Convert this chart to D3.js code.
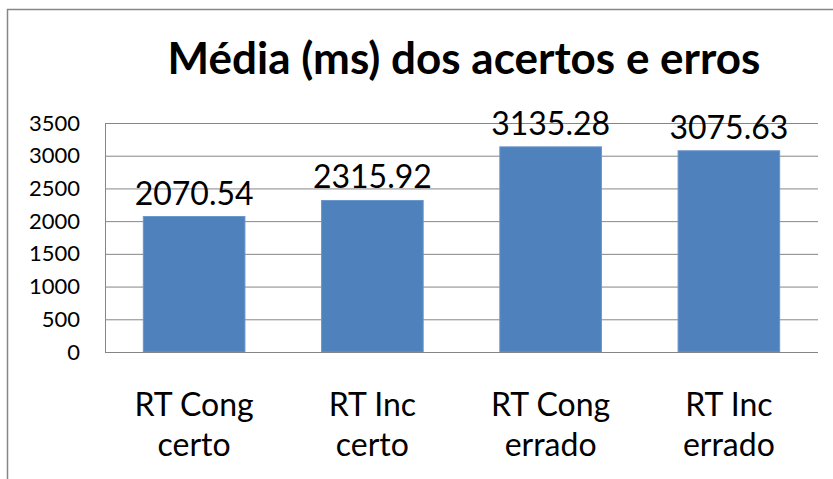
<!DOCTYPE html>
<html><head><meta charset="utf-8">
<script src="https://cdn.jsdelivr.net/npm/d3@7"></script>
<style>body{margin:0;background:#fff}svg{display:block}</style>
</head><body>
<script>
const title = "Média (ms) dos acertos e erros";
const categories = [["RT Cong","certo"],["RT Inc","certo"],["RT Cong","errado"],["RT Inc","errado"]];
const values = [2070.54, 2315.92, 3135.28, 3075.63];
const valueLabels = ["2070.54","2315.92","3135.28","3075.63"];
const yTicks = [0,500,1000,1500,2000,2500,3000,3500];

(function(){
const W=833,H=479;
const svg=d3.select("body").append("svg").attr("width",W).attr("height",H);
const font="Lato, 'Open Sans', sans-serif";
svg.append("rect").attr("x",7.5).attr("y",9.5).attr("width",W).attr("height",H).attr("fill","#fff").attr("stroke","#868686").attr("stroke-width",1.5);

const pl=105,pr=818,pt=123,pb=352;
const x=d3.scaleBand().domain(d3.range(categories.length)).range([pl,pr]).paddingInner(0.43).paddingOuter(0.215);
const y=d3.scaleLinear().domain([0,3500]).range([pb,pt]);

const yAxis=d3.axisLeft(y).tickValues(yTicks).tickSize(-(pr-pl)).tickPadding(25).tickFormat(d3.format("d"));
const g=svg.append("g").attr("transform",`translate(${pl},0)`).call(yAxis);
g.select(".domain").attr("stroke","#868686");
g.selectAll(".tick line").attr("stroke","#868686").attr("stroke-width",1);
g.selectAll(".tick text").attr("font-family",font).attr("font-size",22).attr("fill","#000");

svg.append("g").selectAll("rect").data(values).join("rect")
 .attr("x",(d,i)=>x(i)).attr("width",x.bandwidth())
 .attr("y",d=>y(d)).attr("height",d=>pb-y(d))
 .attr("fill","#4F81BD").attr("stroke","#6a96cc").attr("stroke-width",1);

svg.append("line").attr("x1",pl).attr("x2",pr).attr("y1",pb+0.5).attr("y2",pb+0.5).attr("stroke","#868686");

svg.append("g").selectAll("text").data(values).join("text")
 .attr("x",(d,i)=>x(i)+x.bandwidth()/2).attr("y",d=>y(d)-12)
 .attr("text-anchor","middle").attr("font-family",font).attr("font-size",32).attr("fill","#000")
 .text((d,i)=>valueLabels[i]);

const cl=svg.append("g").selectAll("text").data(categories).join("text")
 .attr("text-anchor","middle").attr("font-family",font).attr("font-size",32).attr("fill","#000");
cl.selectAll("tspan").data((d,i)=>d.map(s=>({s,i}))).join("tspan")
 .attr("x",d=>x(d.i)+x.bandwidth()/2).attr("y",(d,j)=>416+j*40).text(d=>d.s);

svg.append("text").attr("x",464).attr("y",74).attr("text-anchor","middle")
 .attr("font-family",font).attr("font-weight","bold").attr("font-size",44).attr("fill","#000").text(title);
})();
</script>
</body></html>
